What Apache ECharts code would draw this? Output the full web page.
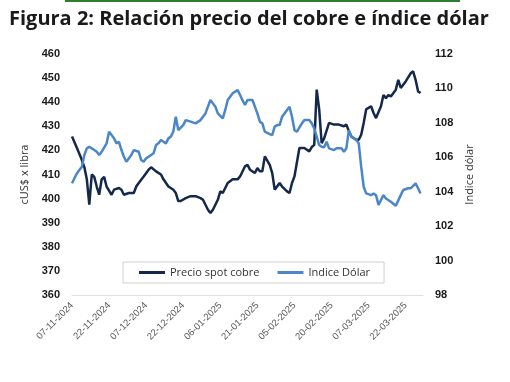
<!DOCTYPE html>
<html>
<head>
<meta charset="utf-8">
<script src="https://cdn.jsdelivr.net/npm/echarts@6/dist/echarts.min.js"></script>
<style>
html,body{margin:0;padding:0;background:#fff;}
#chart{width:510px;height:382px;}
</style>
</head>
<body>
<div id="chart"></div>
<script>
// Day offsets counted from 07-11-2024
var xTickLabels = ['07-11-2024','22-11-2024','07-12-2024','22-12-2024','06-01-2025','21-01-2025','05-02-2025','20-02-2025','07-03-2025','22-03-2025'];

var copperDay = [0,2,4,5,6,7,8,9,10,11,12,13,14,16,17,19,20,21,23,25,26,27,29,31,32,34,36,37,39,41,42,43,44,46,48,50,52,53,55,56,57,59,60,61,63,65,67,68,70,71,72,74,75,76,77,78,80,81,82,84,85,87,88,89,90,92,94,96,97,98,99,100,101,102,104,106,108,110,111,112,113,115,116,117,118,119,121,122,123,125,126,127,128,129,131,132,133,135,137,138,139,140,141];
var copperValue = [425.8,421,416,413,408,397.5,410,409,405,401.6,408,409,405,401.6,403.7,404.4,403.7,401.6,402.3,402.3,405,406.5,409.2,412,413,411.3,410,408,405,403.7,402.3,399,399,400.2,401,401,400.2,399.5,395.4,394,395.4,399.5,403,402.3,406.5,408,408,409.2,413.4,414,412,410.6,412.7,411.3,411.3,417.5,414,410.6,403.7,406.5,405,403,402.3,406.5,409.2,421,421,419.6,421.4,422.3,445.2,437,423,425,431.4,430.7,430.7,430,430.7,428,425.8,424.4,424.4,426.5,431.4,437,438.3,435.5,433.4,438.3,443,441.7,443,442.4,445.2,449.3,445.9,448.6,452,452.8,449.3,444.5,443.8];

var dollarDay = [0,2,4,5,6,7,9,10,11,12,14,15,17,18,19,20,21,22,24,25,27,28,29,30,31,33,34,35,36,38,39,40,41,42,43,45,46,48,50,52,54,55,56,58,59,61,62,63,65,67,68,69,70,71,73,75,76,77,78,80,81,82,83,84,85,87,88,89,90,91,93,94,96,97,98,99,100,101,102,103,104,106,107,109,110,111,112,113,115,116,117,118,119,121,122,123,124,126,127,129,131,133,134,136,137,139,140,141];
var dollarValue = [104.49,105.07,105.45,106.13,106.52,106.61,106.42,106.32,106.13,106.32,106.81,107.49,107.1,106.81,106.9,106.42,106.03,105.74,106.13,106.42,106.32,105.84,105.74,105.94,106.03,106.23,106.71,106.81,107.0,106.81,107.1,107.2,107.5,108.36,107.58,107.87,108.16,108.07,107.97,108.16,108.55,108.94,109.33,108.94,108.55,108.26,108.75,109.33,109.72,109.9,109.62,109.3,109.04,109.33,109.33,108.55,108.07,107.97,107.49,107.35,107.29,107.78,107.87,107.87,108.36,108.75,108.94,108.36,107.58,107.49,107.97,108.16,108.16,107.97,107.68,107.2,106.71,106.61,106.58,106.9,106.52,106.42,106.52,106.52,106.32,106.52,107.58,107.2,107.0,106.81,105.45,104.29,103.9,103.8,103.9,103.8,103.23,103.8,103.61,103.42,103.19,103.8,104.1,104.2,104.2,104.49,104.2,103.9];

function pairs(days, vals){
  var out = [];
  for (var i = 0; i < days.length; i++) out.push([days[i], vals[i]]);
  return out;
}

var chart = echarts.init(document.getElementById('chart'), null, {renderer:'canvas'});
var labelFont = 'Liberation Sans, Arial, sans-serif';
chart.setOption({
  animation: false,
  backgroundColor: '#ffffff',
  title: {
    text: 'Figura 2: Relación precio del cobre e índice dólar',
    left: 4, top: 4,
    textStyle: {fontFamily: 'Open Sans', fontWeight: 'bold', fontSize: 20, color: '#1a1a1a'}
  },
  graphic: [{
    type: 'rect', shape: {x: 65, y: 0, width: 395, height: 2},
    style: {fill: '#2e7d32'}
  }],
  legend: {
    left: 123, top: 262,
    data: ['Precio spot cobre', 'Indice Dólar'],
    icon: 'rect', itemWidth: 26, itemHeight: 3, itemGap: 18,
    borderColor: '#d0d0d0', borderWidth: 1, backgroundColor: '#ffffff',
    padding: [5, 14, 5, 16],
    textStyle: {fontFamily: 'Open Sans', fontSize: 11, color: '#333'}
  },
  grid: {left: 72, right: 87, top: 54, bottom: 87},
  xAxis: {
    type: 'value', min: 0, max: 142, interval: 15,
    axisLine: {show: true, lineStyle: {color: '#e0e0e0', width: 1}},
    axisTick: {show: false},
    splitLine: {show: false},
    axisLabel: {
      rotate: 45, fontSize: 9.5, color: '#595959', fontFamily: labelFont, margin: 9,
      showMaxLabel: false,
      formatter: function (v) { return xTickLabels[Math.round(v / 15)] || ''; }
    }
  },
  yAxis: [{
    type: 'value', min: 360, max: 460, interval: 10, position: 'left',
    name: 'cUS$ x libra', nameLocation: 'middle', nameGap: 37, nameRotate: 90,
    nameTextStyle: {fontFamily: 'Open Sans', fontSize: 11, color: '#333'},
    axisLine: {show: false}, axisTick: {show: false}, splitLine: {show: false},
    axisLabel: {fontFamily: labelFont, fontWeight: 'bold', fontSize: 11, color: '#1a1a1a', margin: 12}
  }, {
    type: 'value', min: 98, max: 112, interval: 2, position: 'right',
    name: 'Indice dólar', nameLocation: 'middle', nameGap: 40, nameRotate: 90,
    nameTextStyle: {fontFamily: 'Open Sans', fontSize: 11, color: '#333'},
    axisLine: {show: false}, axisTick: {show: false}, splitLine: {show: false},
    axisLabel: {fontFamily: labelFont, fontWeight: 'bold', fontSize: 11, color: '#1a1a1a', margin: 12}
  }],
  series: [{
    name: 'Precio spot cobre', type: 'line', yAxisIndex: 0,
    data: pairs(copperDay, copperValue),
    symbol: 'none', lineStyle: {color: '#14284b', width: 2.5}, itemStyle: {color: '#14284b'}
  }, {
    name: 'Indice Dólar', type: 'line', yAxisIndex: 1,
    data: pairs(dollarDay, dollarValue),
    symbol: 'none', lineStyle: {color: '#4a86c8', width: 2.5}, itemStyle: {color: '#4a86c8'}
  }]
});
</script>
</body>
</html>
